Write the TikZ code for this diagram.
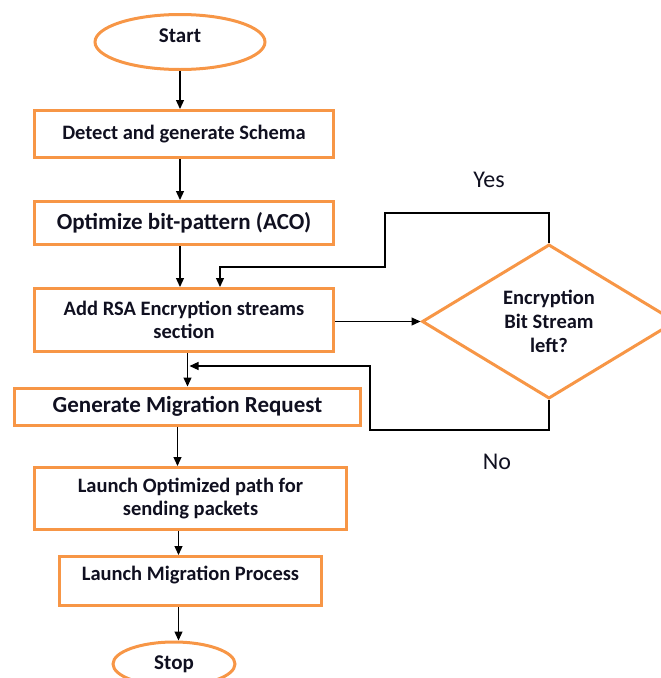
\documentclass[tikz,border=0pt]{standalone}
\usepackage{fontspec}
\setmainfont{Carlito}
\usetikzlibrary{shapes.geometric,arrows.meta}
\definecolor{boxorange}{HTML}{F79646}
\definecolor{txt}{HTML}{101020}
\begin{document}
\begin{tikzpicture}[x=1pt,y=-1pt,
  box/.style={draw=boxorange,line width=3pt,rectangle,inner sep=2pt,align=center,text=txt,font=\bfseries\fontsize{20.5}{23}\selectfont},
  big/.style={font=\bfseries\fontsize{23}{26}\selectfont},
  term/.style={draw=boxorange,line width=3pt,ellipse,inner sep=0pt,text=txt,font=\bfseries\fontsize{21}{24}\selectfont},
  arr/.style={draw=black,line width=1.2pt,-{Triangle[length=9pt,width=8pt]}},
  lbl/.style={text=txt,font=\fontsize{24}{28}\selectfont}]
\useasboundingbox (0,0) rectangle (661,678);
\node[term,minimum width=170pt,minimum height=55pt,text depth=12pt] (start) at (180,42) {Start};
\node[box,minimum width=299pt,minimum height=47pt] (b1) at (184,134) {Detect and generate Schema};
\node[box,big,minimum width=299pt,minimum height=43pt] (b2) at (184,223) {Optimize bit-pattern (ACO)};
\node[box,minimum width=299pt,minimum height=63pt] (b3) at (184,320) {Add RSA Encryption streams\\section};
\node[draw=boxorange,line width=3pt,diamond,minimum width=254pt,minimum height=153pt,inner sep=0pt,align=center,text=txt,font=\bfseries\fontsize{20.5}{24}\selectfont] (dia) at (549,321.5) {Encryption\\Bit Stream\\left?};
\node[box,big,minimum width=346pt,minimum height=37pt] (b4) at (187.5,406.5) {Generate Migration Request};
\node[box,minimum width=312pt,minimum height=62pt] (b5) at (190.5,498.5) {Launch Optimized path for\\sending packets};
\node[box,minimum width=262pt,minimum height=49pt,text depth=15pt] (b6) at (190.5,581) {Launch Migration Process};
\node[term,minimum width=122pt,minimum height=44pt] (stop) at (174,664) {Stop};
\node[lbl] (yes) at (489,180) {Yes};
\node[lbl] (no) at (497,462) {No};
\coordinate (yb) at (385,267);
\coordinate (nb) at (370,366);
% main flow
\draw[arr] (start.south) -- (start.south |- b1.north);
\draw[arr] (b1.south -| start.south) -- (b2.north -| start.south);
\draw[arr] (b2.south -| start.south) -- (b3.north -| start.south);
\draw[arr] (b3.south -| b4.north) -- (b4.north);
\draw[arr] ([xshift=-10pt]b4.south) -- ([xshift=-10pt]b4.south |- b5.north);
\draw[arr] ([xshift=-12pt]b5.south) -- ([xshift=-12pt]b5.south |- b6.north);
\draw[arr] ([xshift=-12pt]b6.south) -- ([xshift=-12pt]b6.south |- stop.north);
\draw[arr] (b3.east |- dia.west) -- (dia.west);
% yes loop
\draw[arr] (dia.north) -- ++(0,-30) -| (yb) -| ([xshift=36pt]b3.north);
% no loop
\draw[arr] (dia.south) -- ++(0,30) -| (nb) -- ([xshift=2pt]b4.north |- nb);
\end{tikzpicture}
\end{document}
